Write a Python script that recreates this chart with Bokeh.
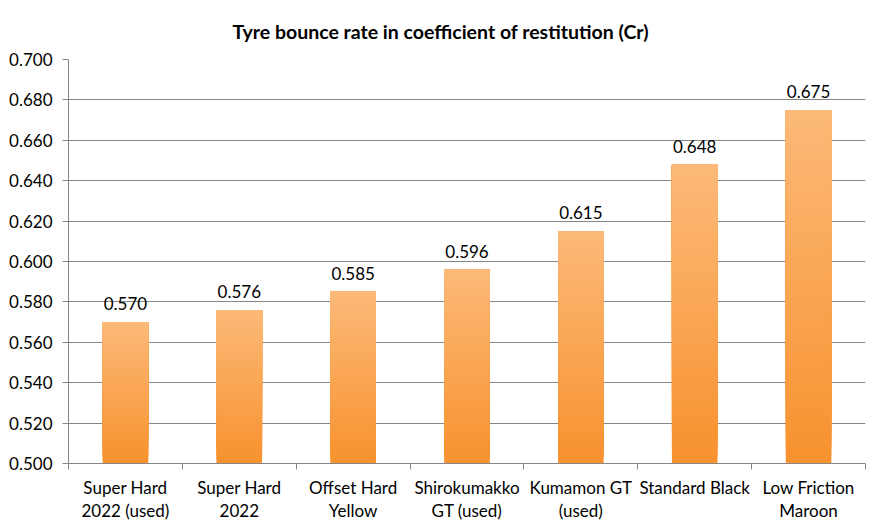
from bokeh.plotting import figure
from bokeh.models import Range1d, FixedTicker, ColumnDataSource, LabelSet, Title, PrintfTickFormatter
from bokeh.core.properties import value
from bokeh.embed import file_html
from bokeh.resources import INLINE

title_text = "Tyre bounce rate in coefficient of restitution (Cr)"
categories = ["Super Hard\n2022 (used)", "Super Hard\n2022", "Offset Hard\nYellow",
              "Shirokumakko\nGT (used)", "Kumamon GT\n(used)", "Standard Black",
              "Low Friction\nMaroon"]
values = [0.570, 0.576, 0.585, 0.596, 0.615, 0.648, 0.675]
value_labels = ["0.570", "0.576", "0.585", "0.596", "0.615", "0.648", "0.675"]
y_ticks = [0.500, 0.520, 0.540, 0.560, 0.580, 0.600, 0.620, 0.640, 0.660, 0.680, 0.700]

Y_MIN, Y_MAX = y_ticks[0], y_ticks[-1]
FONT = "Lato"
FS = "17px"
BOTTOM_RGB = (247, 145, 46)
TOP_RGB = (252, 186, 120)
N_SLICES = 40
BAR_W = 0.4

n = len(categories)
centers = [i + 0.5 for i in range(n)]

p = figure(width=871, height=521, output_backend="svg", toolbar_location=None,
           x_range=Range1d(0, n), y_range=Range1d(Y_MIN, Y_MAX),
           min_border_left=68, min_border_right=6, min_border_top=59, min_border_bottom=58,
           frame_width=797, frame_height=404)
p.outline_line_color = None
p.background_fill_color = "white"
p.border_fill_color = "white"

# gradient bars built from stacked slices (each slice reaches the bar top)
xs, bots, tops, cols = [], [], [], []
for i, v in enumerate(values):
    for k in range(N_SLICES):
        f = k / N_SLICES
        xs.append(centers[i])
        bots.append(Y_MIN + (v - Y_MIN) * f)
        tops.append(v)
        ff = (k + 0.5) / N_SLICES
        c = tuple(int(round(BOTTOM_RGB[j] + (TOP_RGB[j] - BOTTOM_RGB[j]) * ff)) for j in range(3))
        cols.append("#%02x%02x%02x" % c)
src = ColumnDataSource(dict(x=xs, bottom=bots, top=tops, color=cols))
p.vbar(x="x", bottom="bottom", top="top", width=BAR_W, fill_color="color", line_color=None, source=src)

lab_src = ColumnDataSource(dict(x=centers, y=values, t=value_labels))
p.add_layout(LabelSet(x="x", y="y", text="t", source=lab_src, text_align="center",
                      text_baseline="alphabetic", y_offset=12, text_font=value(FONT),
                      text_font_size=value(FS), text_color=value("#000000")))

# axes
xa = p.xaxis[0]
xa.ticker = FixedTicker(ticks=centers, minor_ticks=list(range(n + 1)))
xa.major_label_overrides = {c: lab for c, lab in zip(centers, categories)}
xa.major_tick_line_color = None
xa.minor_tick_line_color = "#868686"
xa.minor_tick_in = 0
xa.minor_tick_out = 6
xa.axis_line_color = "#868686"
xa.major_label_text_font = FONT
xa.major_label_text_font_size = FS
xa.major_label_text_color = "#000000"
xa.major_label_text_line_height = 1.1
xa.major_label_standoff = 7

ya = p.yaxis[0]
ya.ticker = FixedTicker(ticks=y_ticks)
ya.formatter = PrintfTickFormatter(format="%.3f")
ya.major_tick_line_color = "#868686"
ya.major_tick_in = 0
ya.major_tick_out = 6
ya.minor_tick_line_color = None
ya.axis_line_color = "#868686"
ya.major_label_text_font = FONT
ya.major_label_text_font_size = FS
ya.major_label_text_color = "#000000"
ya.major_label_standoff = 10

p.xgrid.grid_line_color = None
p.ygrid.grid_line_color = "#868686"
p.ygrid.ticker = FixedTicker(ticks=y_ticks)

p.add_layout(Title(text=title_text, align="left", offset=164, standoff=34,
                   text_font=FONT, text_font_style="bold", text_font_size="19.5px",
                   text_color="#000000"), "above")

open("out.html", "w").write(file_html(p, INLINE))
